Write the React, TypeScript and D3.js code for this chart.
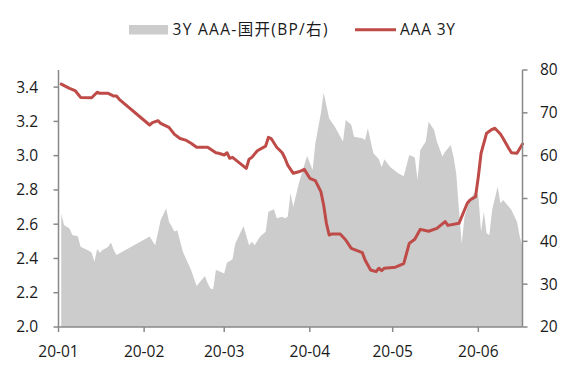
import React from "react";
import * as d3 from "d3";

// AAA 3Y yield (left axis, %)
const lineDates = ["01-02","01-05","01-07","01-09","01-13","01-15","01-16","01-19","01-21","01-22","01-23","02-03","02-04","02-06","02-07","02-10","02-12","02-14","02-16","02-18","02-20","02-24","02-27","02-28","03-01","03-02","03-03","03-04","03-09","03-10","03-11","03-13","03-16","03-17","03-18","03-20","03-22","03-23","03-24","03-26","03-28","03-30","04-01","04-03","04-05","04-06","04-07","04-08","04-09","04-12","04-14","04-16","04-20","04-21","04-23","04-25","04-26","04-27","04-28","05-02","05-05","05-07","05-09","05-11","05-14","05-17","05-20","05-21","05-25","05-28","05-29","05-31","06-01","06-02","06-04","06-06","06-07","06-09","06-10","06-12","06-13","06-15","06-17"];
const lineValues = [3.418,3.393,3.38,3.34,3.338,3.37,3.364,3.364,3.348,3.348,3.329,3.179,3.193,3.204,3.189,3.165,3.124,3.10,3.091,3.072,3.049,3.049,3.017,3.014,3.004,3.017,2.985,2.99,2.926,2.979,2.99,3.029,3.056,3.107,3.10,3.049,3.017,2.985,2.945,2.897,2.906,2.92,2.868,2.854,2.79,2.712,2.605,2.537,2.543,2.543,2.508,2.459,2.434,2.391,2.333,2.323,2.343,2.329,2.343,2.349,2.37,2.488,2.512,2.57,2.559,2.576,2.615,2.593,2.605,2.722,2.741,2.76,2.877,3.014,3.131,3.154,3.16,3.126,3.10,3.043,3.017,3.014,3.068];

// 3Y AAA - CDB spread (right axis, BP)
const areaDates = ["01-02","01-03","01-05","01-06","01-08","01-09","01-12","01-13","01-14","01-15","01-16","01-17","01-19","01-20","01-21","01-22","02-03","02-05","02-07","02-09","02-10","02-12","02-13","02-15","02-18","02-20","02-23","02-24","02-25","02-26","02-27","02-28","03-01","03-02","03-04","03-05","03-08","03-10","03-11","03-12","03-14","03-16","03-17","03-19","03-20","03-22","03-23","03-24","03-25","03-26","03-28","03-30","03-31","04-02","04-03","04-05","04-06","04-08","04-10","04-13","04-14","04-16","04-17","04-20","04-21","04-22","04-24","04-26","04-27","04-28","04-30","05-03","05-05","05-07","05-09","05-10","05-11","05-13","05-14","05-16","05-17","05-19","05-20","05-22","05-23","05-24","05-25","05-26","05-27","05-29","05-31","06-01","06-02","06-03","06-04","06-05","06-06","06-08","06-09","06-10","06-13","06-15","06-16","06-17"];
const areaValues = [46.5,43.8,43.0,41.5,41.2,38.75,37.8,37.35,35.25,38.2,37.35,38.0,38.75,39.7,38.0,36.8,41.1,39.1,45.0,47.7,44.6,42.3,42.6,37.6,33.3,29.6,31.9,30.2,29.0,28.8,33.3,33.1,32.5,35.0,35.8,39.5,43.6,39.1,39.9,39.1,41.1,42.25,46.9,47.5,45.4,45.75,45.4,45.75,51.2,48.1,53.5,57.8,59.9,56.65,62.9,69.9,74.7,68.7,66.8,63.3,68.3,67.2,64.4,64.05,63.65,66.4,60.55,59.15,57.3,59.15,57.4,55.9,55.2,60.15,59.6,54.3,61.3,63.3,67.9,66.0,63.3,59.8,60.9,62.5,59.8,55.9,47.3,39.5,45.75,50.0,51.6,50.8,42.25,46.9,41.9,41.5,47.3,52.75,48.9,49.65,47.3,44.6,41.1,38.75];

const leftTicks = [2.0, 2.2, 2.4, 2.6, 2.8, 3.0, 3.2, 3.4];
const rightTicks = [20, 30, 40, 50, 60, 70, 80];
const monthTicks = ["01-01", "02-01", "03-01", "04-01", "05-01", "06-01"];
const areaLabel = "3Y AAA-国开(BP/右)";
const lineLabel = "AAA 3Y";

const W = 577, H = 376;
const L = 58.5, R = 522.5, T = 70, B = 327;
const FONT = "'Open Sans', 'Noto Sans CJK SC', sans-serif";
const AXIS = "#898989";
const RED = "#BE4B48";
const GRAY = "#CCCCCC";

const parse = d3.timeParse("%Y-%m-%d");
const toDate = (s: string) => parse("2020-" + s) as Date;

export default function App() {
  const x = d3.scaleTime().domain([toDate("01-01"), toDate("06-17")]).range([L, R]);
  const yL = d3.scaleLinear().domain([2.0, 3.5]).range([B, T]);
  const yR = d3.scaleLinear().domain([20, 80]).range([B, T]);

  const areaData = areaDates.map((d, i) => ({ date: toDate(d), v: areaValues[i] }));
  const lineData = lineDates.map((d, i) => ({ date: toDate(d), v: lineValues[i] }));

  const areaPath = d3.area<{ date: Date; v: number }>()
    .x(d => x(d.date)).y0(yR(20)).y1(d => yR(d.v))(areaData) || "";
  const linePath = d3.line<{ date: Date; v: number }>()
    .x(d => x(d.date)).y(d => yL(d.v))(lineData) || "";
  const fmt = d3.timeFormat("%y-%m");

  return (
    <svg width={W} height={H} style={{ position: "absolute", left: 0, top: 0, background: "#fff" }}
      fontFamily={FONT}>
      <rect width={W} height={H} fill="#fff" />
      <path d={areaPath} fill={GRAY} />
      <path d={linePath} fill="none" stroke={RED} strokeWidth={3} strokeLinejoin="round" strokeLinecap="round" />
      {/* left axis */}
      <line x1={L} x2={L} y1={T} y2={B} stroke={AXIS} strokeWidth={1.5} />
      {leftTicks.map(t => (
        <g key={"l" + t}>
          <line x1={L - 5} x2={L} y1={yL(t)} y2={yL(t)} stroke={AXIS} strokeWidth={1.5} />
          <text x={38} y={yL(t)} dy="0.35em" textAnchor="end" fontSize={15.5} fill="#1a1a1a">{t.toFixed(1)}</text>
        </g>
      ))}
      {/* right axis */}
      <line x1={R} x2={R} y1={T} y2={B} stroke={AXIS} strokeWidth={1.5} />
      {rightTicks.map(t => (
        <g key={"r" + t}>
          <line x1={R} x2={R + 5} y1={yR(t)} y2={yR(t)} stroke={AXIS} strokeWidth={1.5} />
          <text x={540} y={yR(t)} dy="0.35em" textAnchor="start" fontSize={15.5} fill="#1a1a1a">{t}</text>
        </g>
      ))}
      {/* bottom axis */}
      <line x1={L} x2={R} y1={B} y2={B} stroke={AXIS} strokeWidth={1.5} />
      {monthTicks.map(m => {
        const d = toDate(m);
        return (
          <g key={m}>
            <line x1={x(d)} x2={x(d)} y1={B} y2={B + 5} stroke={AXIS} strokeWidth={1.5} />
            <text x={x(d)} y={357} textAnchor="middle" fontSize={15.5} fill="#1a1a1a">{fmt(d)}</text>
          </g>
        );
      })}
      {/* legend */}
      <rect x={129} y={25} width={39} height={9.5} fill={GRAY} />
      <text x={172.5} y={30} dy="0.35em" fontSize={15.5} fill="#1a1a1a" textLength={155} lengthAdjust="spacing">{areaLabel}</text>
      <line x1={355} x2={396} y1={29.7} y2={29.7} stroke={RED} strokeWidth={3} />
      <text x={400} y={30} dy="0.35em" fontSize={15.5} fill="#1a1a1a" textLength={55} lengthAdjust="spacing">{lineLabel}</text>
    </svg>
  );
}
